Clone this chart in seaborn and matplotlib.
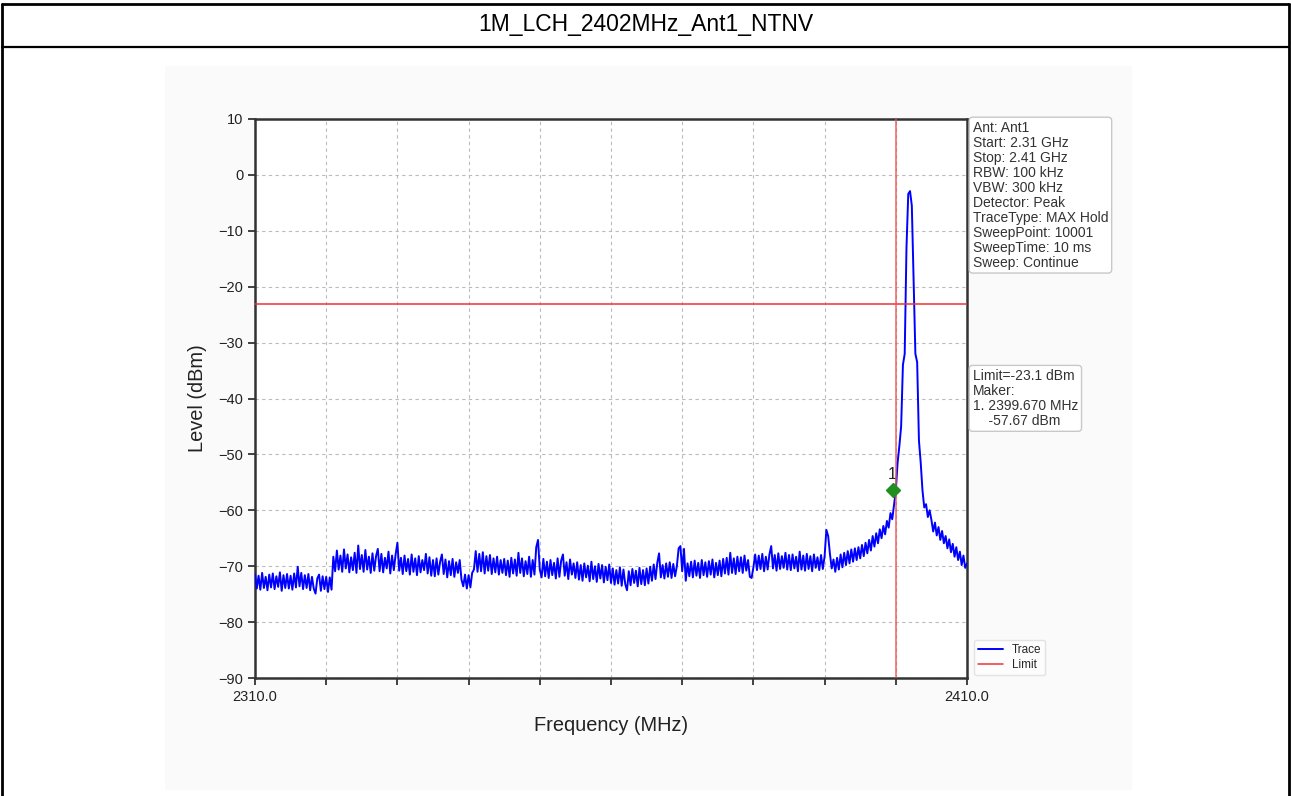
import numpy as np
import pandas as pd
import matplotlib
matplotlib.use("Agg")
import matplotlib.pyplot as plt
import seaborn as sns
from matplotlib.patches import Rectangle
from matplotlib.lines import Line2D

# ---------------- data ----------------
title = "1M_LCH_2402MHz_Ant1_NTNV"
freq_start, freq_stop, freq_step = 2310.0, 2410.0, 0.25
# trace levels (dBm), one row per 5 MHz (0.25 MHz steps), final value at 2410.0
levels = [
    -71.4, -74.0, -71.7, -74.2, -71.2, -73.9, -71.9, -74.3, -71.5, -73.8, -71.3, -74.1, -71.8, -73.7, -71.1, -74.4, -71.6, -73.9, -71.4, -74.0,
    -71.7, -74.2, -71.3, -73.8, -70.1, -73.6, -71.2, -74.1, -71.6, -73.9, -71.4, -74.3, -71.9, -74.0, -74.9, -72.2, -71.5, -74.4, -71.8, -74.1,
    -71.9, -74.6, -72.0, -74.2, -68.3, -70.9, -67.2, -70.6, -68.1, -71.0, -67.0, -70.4, -67.9, -71.1, -68.4, -70.7, -67.6, -71.2, -66.3, -70.5,
    -68.0, -71.0, -67.1, -70.6, -68.3, -71.2, -67.7, -70.8, -68.2, -66.9, -70.9, -67.8, -71.1, -68.5, -70.4, -67.4, -71.3, -68.1, -70.7, -67.9,
    -65.8, -70.8, -68.5, -71.4, -68.1, -70.9, -68.7, -71.5, -67.9, -71.0, -68.6, -71.6, -68.2, -71.1, -68.9, -70.7, -67.8, -71.3, -68.4, -71.7,
    -68.9, -71.8, -68.6, -71.5, -69.2, -67.9, -71.4, -68.8, -72.0, -69.1, -71.6, -68.7, -71.9, -69.3, -71.2, -68.9, -72.4, -73.6, -71.5, -74.0,
    -71.6, -73.8, -71.2, -70.6, -67.3, -71.0, -67.8, -70.9, -67.5, -71.3, -68.2, -70.8, -68.0, -71.4, -68.6, -71.1, -68.3, -71.5, -68.9, -71.2,
    -68.7, -71.6, -69.0, -71.9, -68.5, -71.3, -68.8, -71.7, -67.6, -71.2, -68.6, -71.8, -69.1, -71.4, -68.3, -71.9, -68.9, -71.5, -66.6, -65.3,
    -70.6, -72.0, -68.7, -71.8, -69.2, -72.1, -68.9, -71.6, -69.4, -72.2, -68.6, -71.9, -69.0, -67.9, -71.7, -69.3, -72.3, -68.8, -71.5, -69.5,
    -72.1, -69.3, -72.4, -69.8, -72.6, -69.5, -72.0, -69.9, -72.7, -69.2, -72.3, -70.0, -72.8, -69.6, -72.2, -69.8, -72.9, -70.1, -72.5, -69.7,
    -73.0, -70.4, -73.3, -70.7, -73.1, -70.2, -73.5, -70.6, -73.2, -74.3, -70.9, -73.4, -70.5, -73.0, -70.8, -73.6, -70.3, -73.2, -70.7, -73.4,
    -70.4, -73.1, -70.1, -72.6, -69.7, -72.3, -69.4, -67.7, -72.0, -69.8, -72.2, -69.5, -71.9, -69.3, -72.1, -69.6, -71.8, -70.0, -66.8, -66.4,
    -70.9, -66.9, -72.6, -69.5, -71.8, -69.2, -72.0, -69.0, -71.7, -69.4, -72.1, -68.9, -71.6, -69.3, -71.9, -69.1, -71.5, -68.8, -72.0, -69.4,
    -71.6, -69.0, -71.8, -68.7, -71.3, -68.5, -71.5, -67.6, -71.2, -68.6, -71.4, -68.3, -70.9, -68.4, -71.2, -68.1, -70.8, -68.9, -71.9, -72.1,
    -70.2, -67.9, -70.7, -68.1, -70.5, -67.8, -70.9, -68.3, -70.6, -67.9, -66.4, -70.4, -68.0, -70.8, -67.7, -70.5, -68.2, -70.3, -67.6, -70.6,
    -68.0, -70.7, -67.9, -70.4, -68.3, -70.9, -67.4, -70.6, -68.1, -70.8, -67.8, -70.5, -68.2, -70.9, -67.9, -70.3, -68.4, -70.7, -68.0, -70.5,
    -68.2, -63.5, -64.6, -67.8, -70.4, -68.8, -71.0, -68.5, -70.6, -67.9, -70.2, -67.6, -69.8, -67.3, -69.5, -67.0, -69.2, -66.8, -68.9, -66.6,
    -68.6, -66.2, -68.2, -65.8, -67.7, -65.3, -67.2, -64.6, -66.5, -64.1, -65.9, -63.4, -65.0, -62.8, -64.3, -61.9, -63.1, -60.5, -61.6, -59.0,
    -56.5, -51.5, -48.5, -45.0, -34.0, -32.0, -13.0, -3.4, -2.9, -5.5, -19.0, -32.0, -33.5, -47.5, -51.5, -56.5, -59.5, -58.9, -61.2, -60.0,
    -61.7, -63.8, -62.2, -64.5, -63.0, -65.3, -63.7, -65.9, -64.6, -66.8, -65.2, -67.5, -66.0, -68.3, -66.6, -68.9, -67.4, -69.8, -68.1, -70.3,
    -69.5,
]
limit_level = -23.1
marker_freq = 2399.670
marker_level = -57.67
marker_drawn_level = -56.3
vline_freq = 2400.0
info_lines = ["Ant: Ant1", "Start: 2.31 GHz", "Stop: 2.41 GHz", "RBW: 100 kHz", "VBW: 300 kHz",
              "Detector: Peak", "TraceType: MAX Hold", "SweepPoint: 10001", "SweepTime: 10 ms",
              "Sweep: Continue"]
y_ticks = [10, 0, -10, -20, -30, -40, -50, -60, -70, -80, -90]
x_label_ticks = [2310.0, 2410.0]

# ---------------- plot ----------------
sns.set_style("white")
plt.rcParams['font.family'] = ['Liberation Sans', 'DejaVu Sans']

W, H = 1291, 796
fig = plt.figure(figsize=(W / 100, H / 100), dpi=100)
fig.patch.set_facecolor("white")

def fx(px):
    return px / W

def fy(py):
    return 1 - py / H

# light grey plotting area background
fig.add_artist(Rectangle((fx(165), fy(790)), fx(1132) - fx(165), fy(66) - fy(790),
                         transform=fig.transFigure, facecolor="#fafafa", edgecolor="none", zorder=0))
# outer table border + title separator
fig.add_artist(Line2D([fx(2), fx(1289)], [fy(4), fy(4)], color="black", lw=2, transform=fig.transFigure))
fig.add_artist(Line2D([fx(2), fx(1289)], [fy(47), fy(47)], color="black", lw=1.6, transform=fig.transFigure))
fig.add_artist(Line2D([fx(2), fx(2)], [fy(4), 0], color="black", lw=2, transform=fig.transFigure))
fig.add_artist(Line2D([fx(1289), fx(1289)], [fy(4), 0], color="black", lw=2, transform=fig.transFigure))
fig.text(0.5, fy(25), title, ha="center", va="center", fontsize=16.5, color="black")

ax = fig.add_axes([fx(255), fy(678), fx(967) - fx(255), fy(119) - fy(678)])
ax.set_facecolor("white")

freqs = np.arange(freq_start, freq_stop + freq_step / 2, freq_step)
df = pd.DataFrame({"Frequency": freqs, "Level": levels})
sns.lineplot(data=df, x="Frequency", y="Level", ax=ax, color="#0000ff", lw=1.4,
             estimator=None, label="Trace", zorder=3)
ax.axhline(limit_level, color="#ee3333", lw=1.1, label="Limit", zorder=4)
ax.axvline(vline_freq, color="#f05555", lw=1.2, alpha=0.85, zorder=4)
ax.plot([marker_freq], [marker_drawn_level], marker="D", color="#1f8f1f", markersize=7, zorder=5)
ax.text(marker_freq - 0.15, marker_drawn_level + 1.3, "1", ha="center", va="bottom", fontsize=11.5, color="#222222")

ax.set_xlim(freq_start, freq_stop)
ax.set_ylim(-90, 10)
xt = np.arange(freq_start, freq_stop + 1, 10)
ax.set_xticks(xt)
ax.set_xticklabels([f"{t:.1f}" if t in x_label_ticks else "" for t in xt])
ax.set_yticks(y_ticks)
ax.set_yticklabels([f"{t}".replace("-", "\u2212") for t in y_ticks])
ax.tick_params(axis="both", direction="out", length=5, width=1.3, color="#333333",
               labelsize=10.5, labelcolor="#222222", bottom=True, left=True)
ax.grid(True, ls=(0, (3, 3)), color="#bbbbbb", lw=0.8)
for s in ax.spines.values():
    s.set_color("#333333")
    s.set_linewidth(1.8)
ax.set_xlabel("Frequency (MHz)", fontsize=14.4, labelpad=9, color="#222222")
ax.set_ylabel("Level (dBm)", fontsize=14.4, labelpad=8, color="#222222")

box_style = dict(boxstyle="round,pad=0.25", fc="white", ec="#c8c8c8", lw=1)
ax.text(1.008, 0.997, "\n".join(info_lines), transform=ax.transAxes, ha="left", va="top",
        fontsize=10, color="#333333", linespacing=1.09, bbox=box_style)
ax.text(1.008, 0.553, f"Limit={limit_level} dBm\nMaker:\n1. {marker_freq:.3f} MHz\n    {marker_level} dBm",
        transform=ax.transAxes, ha="left", va="top", fontsize=10, color="#333333", linespacing=1.09,
        bbox=box_style)

leg = ax.legend(loc="lower left", bbox_to_anchor=(1.002, -0.005), fontsize=8.5, frameon=True,
                handlelength=2.1, borderpad=0.35, labelspacing=0.25, handletextpad=0.7, fancybox=True)
leg.get_frame().set_edgecolor("#dddddd")

fig.savefig("out.png", dpi=100)
